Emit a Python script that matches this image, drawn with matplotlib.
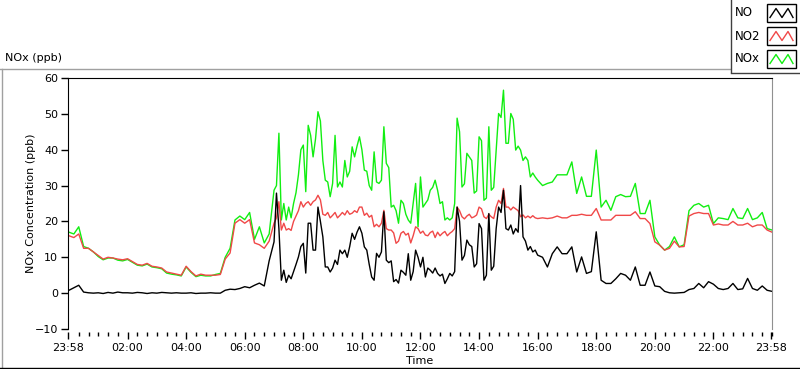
import numpy as np
import matplotlib
matplotlib.use("Agg")
from matplotlib import pyplot as plt
from matplotlib.lines import Line2D
from matplotlib.patches import Rectangle

# readings every 10 min, except 07:00-16:00 which is every 5 min (hours)
hours = np.concatenate([np.arange(42) / 6.0,
                        7 + np.arange(108) / 12.0,
                        16 + np.arange(49) / 6.0])

no = [0.8, 1.5, 2.2, 0.3, 0.1, 0.0,
      0.1, -0.1, 0.2, 0.0, 0.3, 0.1,
      0.1, 0.0, 0.2, 0.1, -0.1, 0.1,
      0.0, 0.2, 0.1, 0.0, 0.1, 0.0,
      0.0, 0.1, -0.1, 0.0, 0.0, 0.1,
      0.0, 0.0, 0.8, 1.1, 1.0, 1.3,
      1.8, 1.5, 2.2, 2.8, 2.0, 9.0,
      # 07:00 - 16:00, 5 min
      14.3, 27.9, 18.0, 3.6, 6.4, 3.0, 5.0, 4.0, 6.0, 8.0, 10.1, 13.0,
      13.9, 5.6, 19.5, 19.5, 12.0, 12.0, 24.0, 20.0, 15.7, 7.3, 7.3, 5.9,
      7.0, 9.2, 8.0, 12.0, 11.0, 12.0, 10.0, 13.0, 16.7, 15.0, 17.0, 18.5,
      16.7, 12.9, 12.0, 8.0, 4.5, 3.6, 11.1, 10.0, 11.5, 22.7, 9.2, 8.5,
      9.0, 3.2, 3.8, 2.8, 6.4, 5.8, 5.0, 11.0, 3.6, 6.0, 12.0, 10.0,
      7.3, 10.0, 4.5, 7.0, 6.4, 5.6, 7.0, 5.5, 4.8, 5.3, 2.7, 4.0,
      5.5, 4.8, 6.0, 24.0, 20.0, 9.2, 10.5, 14.8, 13.5, 13.0, 7.3, 8.2,
      19.4, 18.0, 3.6, 5.0, 22.2, 6.4, 7.5, 18.0, 24.0, 22.5, 28.7, 18.0,
      17.6, 19.0, 16.5, 18.0, 17.0, 30.0, 15.7, 14.5, 12.0, 13.0, 11.5, 12.0,
      # 16:00 - 24:00, 10 min
      10.6, 10.0, 7.3, 11.0, 12.9, 11.0,
      11.0, 12.9, 5.9, 10.1, 5.5, 6.0,
      17.1, 3.6, 2.7, 2.7, 4.0, 5.5,
      5.0, 3.6, 7.3, 2.2, 2.2, 5.9,
      2.0, 1.8, 0.5, 0.1, 0.0, 0.1,
      0.2, 1.0, 1.3, 2.7, 1.5, 3.2,
      2.5, 1.3, 1.0, 1.3, 2.7, 1.0,
      1.2, 4.1, 1.3, 0.8, 2.0, 0.8,
      0.5]

no2 = [16.0, 15.5, 16.5, 12.5, 12.5, 11.5,
       10.5, 9.5, 10.0, 9.8, 9.5, 9.3,
       9.6, 8.8, 8.0, 7.8, 8.3, 7.5,
       7.3, 7.0, 5.9, 5.6, 5.3, 5.0,
       7.5, 6.0, 4.8, 5.3, 5.0, 5.0,
       5.0, 5.2, 9.5, 11.2, 19.5, 20.5,
       19.5, 20.5, 14.0, 13.5, 12.5, 14.5,
       19.5, 21.0, 25.5, 17.6, 19.5, 17.6, 18.0, 17.5, 20.0, 21.5, 23.0, 25.5,
       24.0, 25.0, 25.5, 24.5, 25.5, 26.0, 27.3, 26.0, 22.0, 21.7, 22.5, 21.0,
       21.7, 22.5, 21.0, 21.7, 22.5, 21.8, 23.0, 22.0, 22.3, 23.0, 22.5, 24.0,
       24.0, 21.7, 22.3, 21.2, 21.7, 18.5, 19.2, 18.5, 19.5, 23.1, 18.0, 17.6,
       17.6, 16.8, 13.9, 14.5, 16.7, 17.2, 16.2, 16.7, 14.0, 16.0, 18.5, 18.0,
       16.7, 17.3, 16.2, 16.0, 16.9, 17.3, 15.5, 17.0, 16.0, 16.7, 17.2, 16.0,
       16.7, 17.2, 18.0, 24.0, 23.0, 21.3, 20.7, 21.5, 22.0, 21.0, 21.3, 21.8,
       24.0, 23.5, 21.3, 20.8, 22.0, 21.3, 20.8, 24.0, 25.9, 25.0, 29.2, 24.0,
       24.0, 23.2, 24.0, 23.5, 23.0, 21.3, 21.8, 21.0, 21.5, 21.0, 21.6, 21.0,
       20.8, 21.0, 20.8, 21.0, 21.5, 21.0,
       21.0, 21.7, 21.7, 22.0, 21.7, 21.7,
       23.6, 20.4, 20.4, 20.4, 21.7, 21.7,
       21.7, 21.7, 22.7, 20.8, 20.8, 19.4,
       14.3, 13.4, 12.0, 12.5, 14.5, 12.9,
       13.0, 21.5, 22.2, 22.5, 22.2, 22.2,
       19.0, 19.3, 19.0, 19.0, 20.0, 19.0,
       19.0, 19.5, 18.5, 19.0, 19.0, 17.6,
       17.0]

nox = [17.0, 16.5, 18.5, 13.0, 12.5, 11.5,
       10.2, 9.3, 9.8, 9.8, 9.2, 9.0,
       9.4, 8.6, 7.8, 7.6, 8.1, 7.3,
       7.1, 6.8, 5.6, 5.3, 5.1, 4.8,
       7.3, 5.8, 4.6, 5.0, 4.8, 4.8,
       5.2, 5.5, 10.0, 12.5, 20.4, 21.5,
       20.5, 22.5, 15.0, 18.5, 14.0, 16.5,
       28.7, 30.0, 44.6, 20.4, 25.0, 20.4, 24.0, 21.0, 25.0, 28.0, 33.0, 40.0,
       41.3, 28.3, 46.8, 44.0, 38.0, 43.0, 50.6, 48.0, 37.0, 31.5, 31.0, 26.9,
       30.6, 44.0, 29.6, 31.0, 29.6, 37.0, 32.4, 34.0, 40.8, 38.0, 41.0, 43.6,
       40.0, 34.3, 34.0, 30.0, 28.7, 39.4, 31.0, 30.6, 31.5, 46.4, 36.2, 35.0,
       24.0, 24.5, 23.0, 19.5, 25.9, 25.0, 22.0, 20.4, 19.5, 25.0, 30.6, 18.5,
       32.4, 24.0, 25.0, 26.0, 28.7, 29.5, 31.5, 28.7, 25.0, 25.5, 20.4, 21.0,
       20.4, 21.0, 25.0, 48.8, 45.0, 29.6, 30.5, 39.0, 38.0, 37.0, 27.9, 28.5,
       43.6, 42.5, 25.9, 26.5, 46.4, 28.7, 29.5, 40.0, 50.1, 49.0, 56.6, 41.8,
       41.8, 50.1, 48.5, 39.9, 41.0, 39.9, 37.0, 38.0, 37.0, 32.4, 33.5, 32.4,
       31.5, 30.0, 30.6, 31.0, 33.0, 33.0,
       33.0, 36.6, 27.8, 32.4, 27.0, 27.0,
       39.9, 24.0, 25.9, 23.1, 26.9, 27.5,
       26.9, 27.0, 30.6, 22.2, 22.2, 25.9,
       15.7, 13.4, 12.0, 13.0, 15.7, 12.9,
       13.5, 23.0, 24.5, 25.0, 24.0, 24.5,
       19.4, 21.0, 20.8, 20.5, 23.6, 21.0,
       20.8, 23.6, 20.5, 21.0, 22.5, 18.0,
       17.6]

tick_pos = [-2/60, 2, 4, 6, 8, 10, 12, 14, 16, 18, 20, 22, 24 - 2/60]
tick_lab = ['23:58', '02:00', '04:00', '06:00', '08:00', '10:00', '12:00',
            '14:00', '16:00', '18:00', '20:00', '22:00', '23:58']

plt.rcParams['font.family'] = 'DejaVu Sans'
plt.rcParams['font.size'] = 8

fig = plt.figure(figsize=(8, 3.69), dpi=100)
W, H = 800, 369
ax = fig.add_axes([68/W, 1 - 329/H, (772 - 68)/W, (329 - 78)/H])

ax.plot(hours, nox, color='#11ee11', lw=1)
ax.plot(hours, no2, color='#f04848', lw=1)
ax.plot(hours, no, color='black', lw=1)

ax.set_xlim(-2/60, 24 - 2/60)
ax.set_ylim(-10, 60)
ax.set_yticks(range(-10, 61, 10))
ax.set_xticks(tick_pos)
ax.set_xticklabels(tick_lab)
ax.set_xticks(np.arange(1/3, 24, 1/3), minor=True)
ax.tick_params(axis='x', which='major', length=5, width=1, pad=3)
ax.tick_params(axis='x', which='minor', length=3, width=1)
ax.tick_params(axis='y', length=5, width=1, pad=2)

ax.spines['bottom'].set_position(('outward', 2))
ax.spines['bottom'].set_visible(False)
ax.spines['right'].set_color('#909090')
for s in ['left', 'top']:
    ax.spines[s].set_color('black')

ax.set_ylabel('NOx Concentration (ppb)', labelpad=-1)
ax.set_xlabel('Time', labelpad=2)

fig.text(5/W, 1 - 58/H, 'NOx (ppb)', va='center', ha='left')

# panel frame
fig.add_artist(Line2D([0, 730/W], [1 - 69/H] * 2, color='#a0a0a0', lw=1))
fig.add_artist(Line2D([1.5/W] * 2, [1 - 69/H, 1 - 367/H], color='#a0a0a0', lw=1))
fig.add_artist(Line2D([0, 1], [1 - 367.5/H] * 2, color='black', lw=1))

# legend box
fig.add_artist(Line2D([730.5/W] * 2, [1, 1 - 72/H], color='#404040', lw=1))
fig.add_artist(Line2D([730.5/W, 1], [1 - 72.5/H] * 2, color='#404040', lw=1))
names = ['NO', 'NO2', 'NOx']
colors = ['black', '#f04848', '#11ee11']
for k in range(3):
    yc = 13 + 23 * k
    fig.text(735/W, 1 - yc/H, names[k], va='center', ha='left', fontsize=8.5)
    fig.add_artist(Rectangle((767/W, 1 - (yc + 9)/H), 29/W, 18/H,
                             fill=False, edgecolor='black', lw=1))
    zx = np.array([770, 776, 782, 788, 793]) / W
    zy = 1 - (yc + np.array([5, -5, 5, -5, 5]) * 0.9) / H
    fig.add_artist(Line2D(zx, zy, color=colors[k], lw=1))

fig.savefig('out.png', dpi=100)
